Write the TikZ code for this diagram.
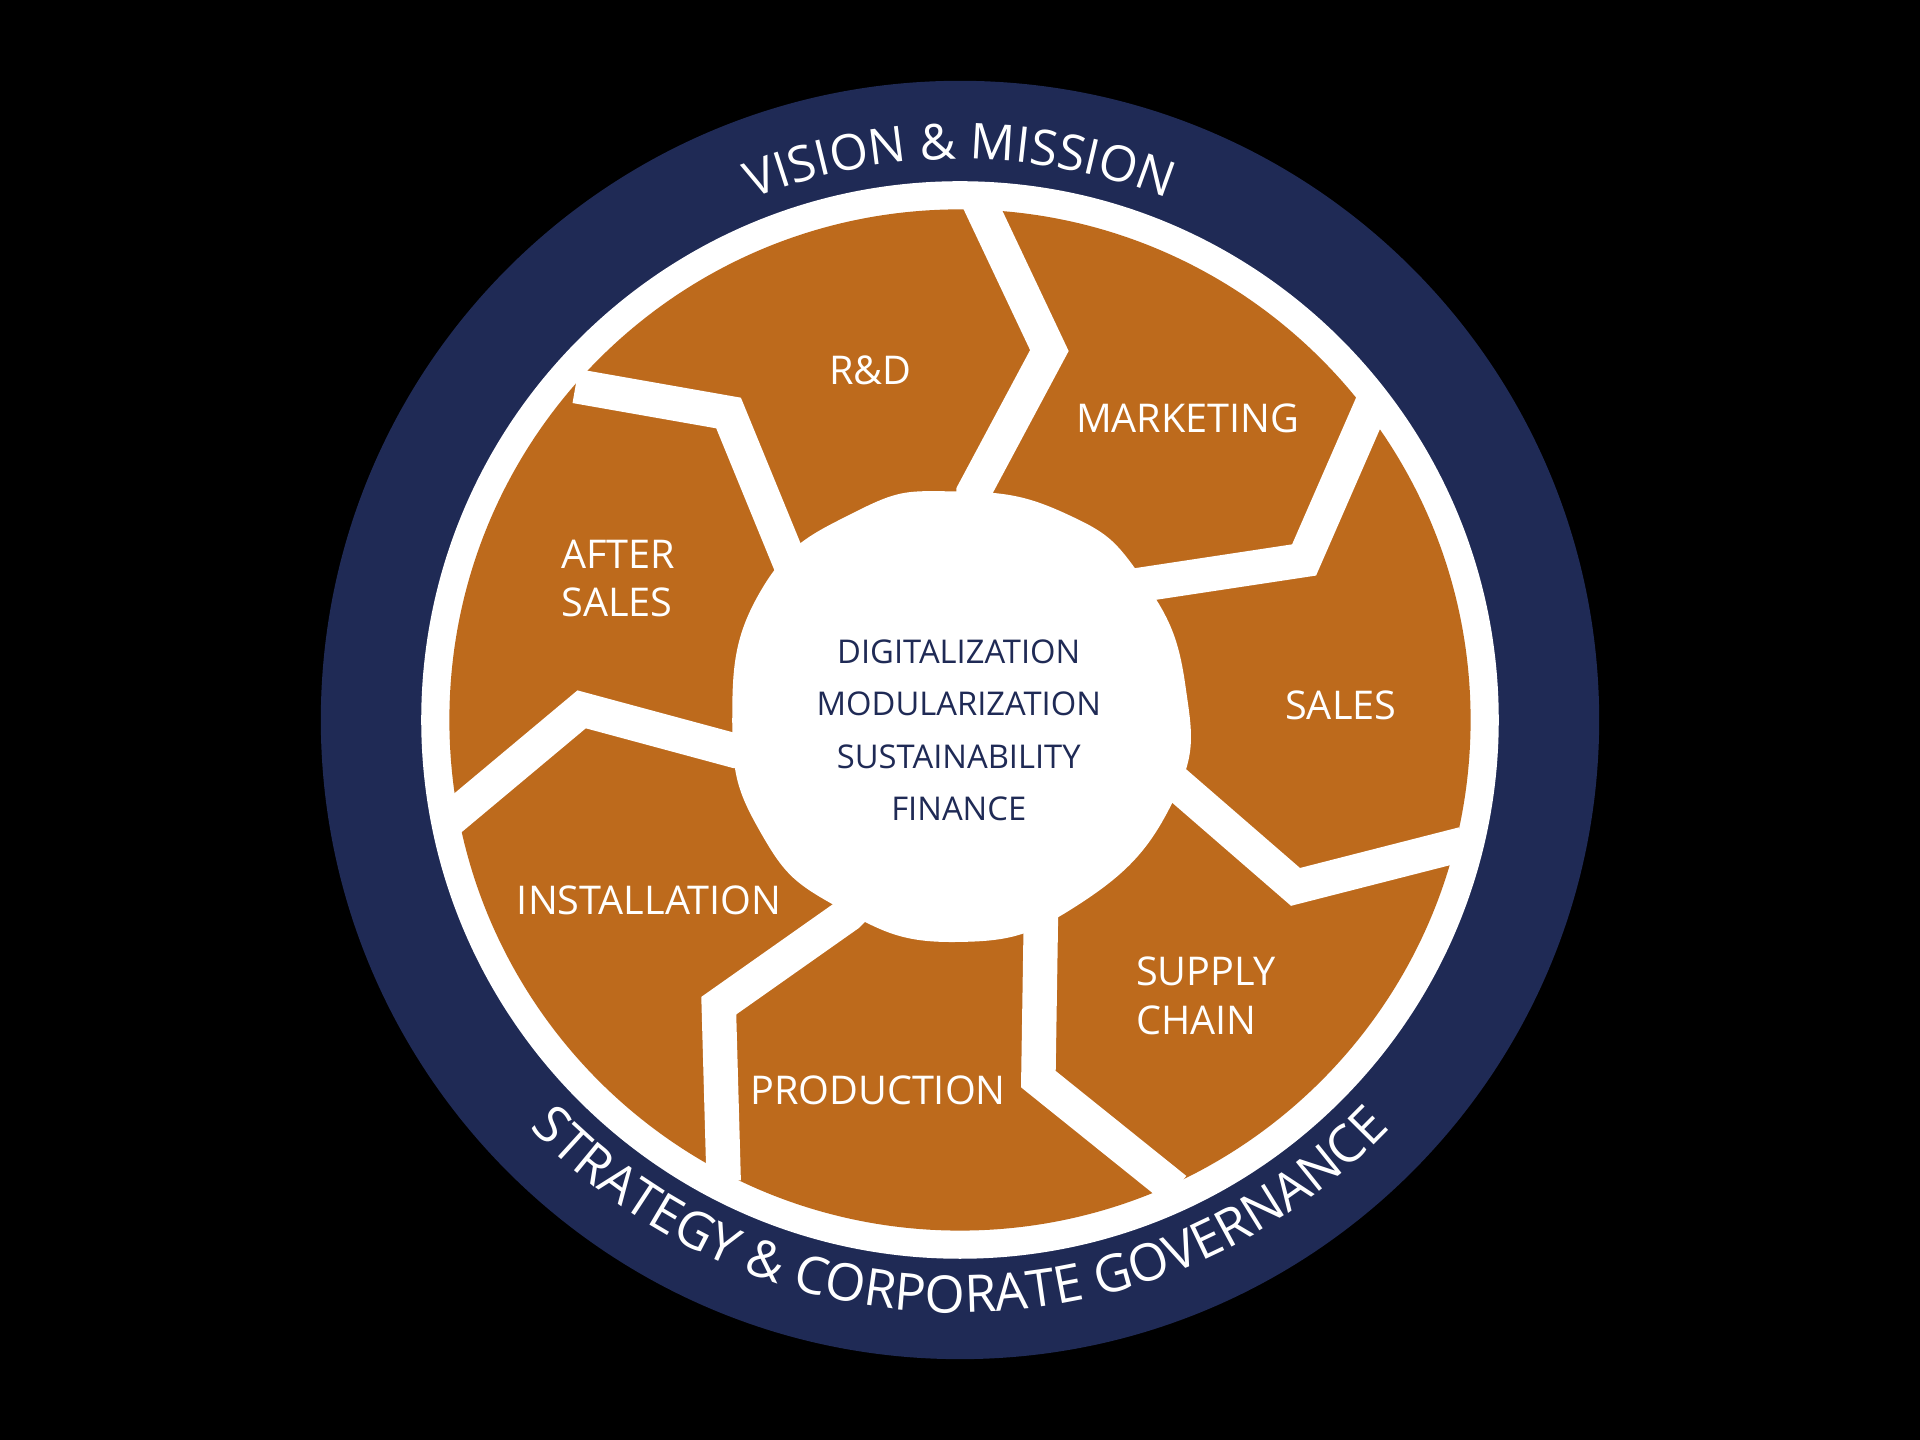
\documentclass[tikz,border=0pt]{standalone}
\usepackage{fontspec}
\setmainfont{Open Sans}
\usetikzlibrary{decorations.text}
\definecolor{navy}{HTML}{1F2A55}
\definecolor{rust}{HTML}{BD6A1C}
\newcommand\sepwidth{8pt}

\begin{document}
\begin{tikzpicture}[x=0.01cm,y=0.01cm,
    sep/.style={white,line width=\sepwidth,line join=miter},
    area/.style={white,font=\fontsize{9.2}{11.2}\selectfont,align=left},
    core/.style={navy,font=\fontsize{7.6}{12.2}\selectfont,align=center}]
    \fill[black] (0,0) rectangle (1568,1176);
    \useasboundingbox (0,0) rectangle (1568,1176);

    \fill[navy] (784,588) circle (522);
    \fill[white] (784,588) circle (440);
    \fill[rust] (784,588) circle (417);

    % ring texts
    \path[decorate,decoration={text along path,text align=center,
      text={|\fontsize{11.5}{14}\selectfont\color{white}|VISION {\&} MISSION}}]
      (784,588) ++(160:458) arc (160:20:458);
    \path[decorate,decoration={text along path,text align=center,
      text={|\fontsize{12}{14}\selectfont\color{white}|STRATEGY {\&} CORPORATE GOVERNANCE}}]
      (784,588) ++(205:484) arc (205:335:484);

    \begin{scope}[yshift=11.76cm,yscale=-1]
      % separators
      \draw[sep] (790,480) -- (795,403) -- (857,287) -- (797,160);
      \draw[sep] (880,520) -- (933,478) -- (1065,458) -- (1123,325);
      \draw[sep] (900,600) -- (960,640) -- (1058,725) -- (1195,690);
      \draw[sep] (850,650) -- (850,755) -- (848,882) -- (960,972);
      \draw[sep] (740,700) -- (692,748) -- (587,822) -- (591,965);
      \draw[sep] (700,620) -- (601,614) -- (475,580) -- (365,672);
      \draw[sep] (700,520) -- (645,460) -- (595,338) -- (470,316);
      % centre
      \fill[white] plot[smooth cycle,tension=0.8] coordinates {(780,402) (870,420) (932,472)
        (968,560) (958,655) (880,740) (780,770) (685,742) (622,682) (598,590) (622,482) (700,418)};
      \node[area] (rnd) at (711,303) {R\&D};
      \node[area] (mkt) at (970,342) {MARKETING};
      \node[area] (aft) at (505,473) {AFTER\\SALES};
      \node[area] (sal) at (1095,577) {SALES};
      \node[area] (sup) at (985,814) {SUPPLY\\CHAIN};
      \node[area] (ins) at (530,736) {INSTALLATION};
      \node[area] (pro) at (717,891) {PRODUCTION};
      \node[core] (ctr) at (783,597) {DIGITALIZATION\\MODULARIZATION\\SUSTAINABILITY\\FINANCE};
    \end{scope}
\end{tikzpicture}
\end{document}
